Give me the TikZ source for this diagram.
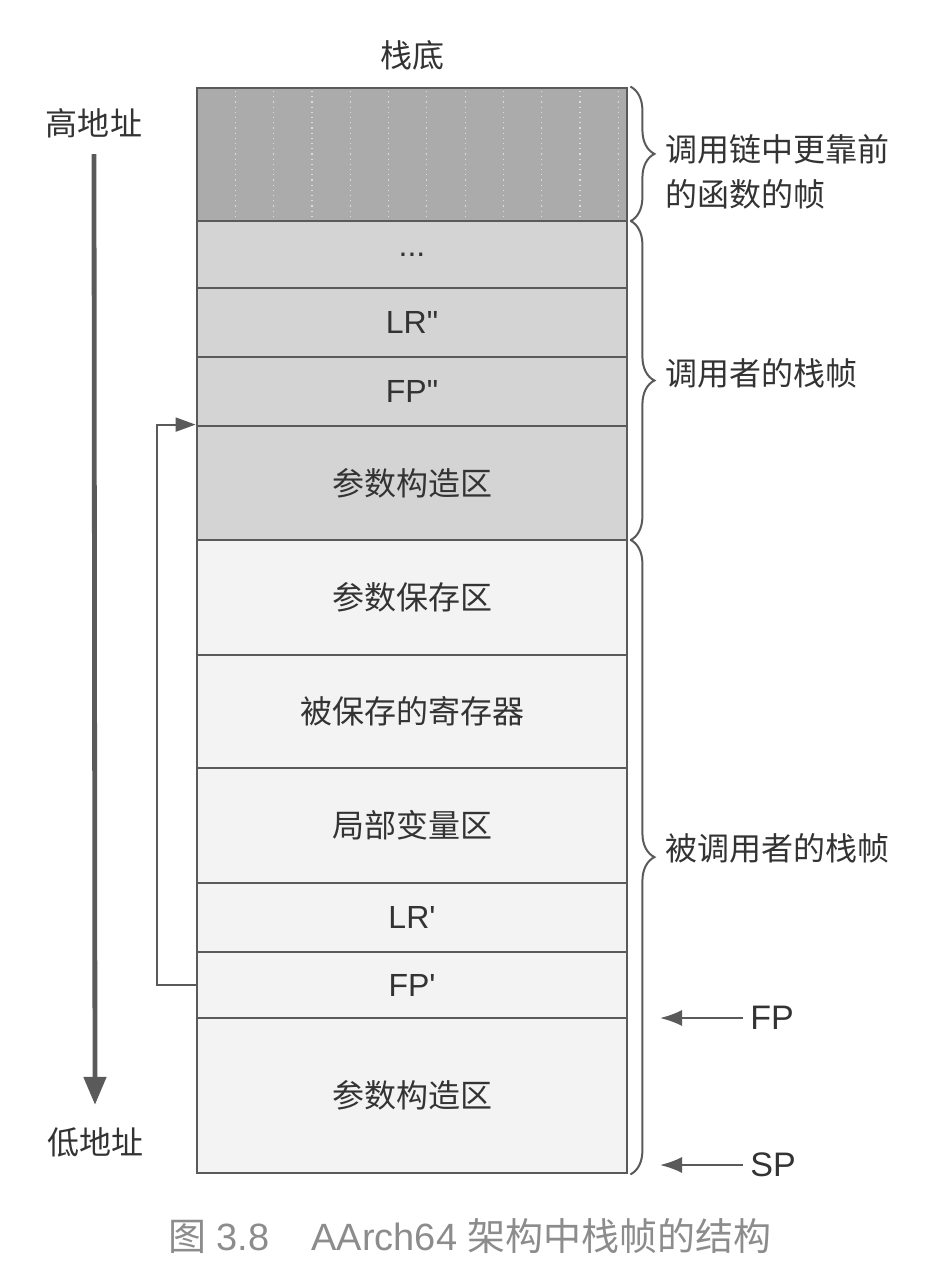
\documentclass[tikz,border=0pt]{standalone}
\usepackage{fontspec}
\newfontfamily\cjk{Noto Sans CJK SC}
\newfontfamily\lat{Liberation Sans}
\usetikzlibrary{arrows.meta}
\usetikzlibrary{decorations.pathreplacing}

\definecolor{edgegray}{HTML}{5A5A5A}
\definecolor{textgray}{HTML}{333333}
\definecolor{oldfill}{HTML}{ABABAB}
\definecolor{callerfill}{HTML}{D4D4D4}
\definecolor{calleefill}{HTML}{F3F3F3}
\definecolor{capgray}{HTML}{8C8C8C}

\begin{document}
\begin{tikzpicture}[x=0.5pt,y=-0.5pt,
    slot/.style={draw=edgegray, line width=1.4pt, minimum width=215pt, inner sep=0pt,
        text=textgray, font=\cjk\fontsize{16}{20}\selectfont},
    latslot/.style={slot, font=\lat\fontsize{16}{20}\selectfont},
    note/.style={text=textgray, inner sep=2pt, font=\cjk\fontsize{16}{22.5}\selectfont},
    grouping/.style={decorate, decoration={brace, amplitude=12pt}, draw=edgegray, line width=1pt},
    ptr/.style={draw=edgegray, line width=1pt, -{Latex[length=11pt,width=8pt]}}]

            \useasboundingbox (0,0) rectangle (946,1284);

            \node[note] (base) at (412,55) {栈底};

            % frames further up the call chain

            \node[slot, fill=oldfill, minimum height=66.5pt] (old) at (412,154.5) {};

            \foreach \i in {1,...,11}
                \draw[white, dotted, line width=0.6pt, opacity=0.6]
                (197+38.3*\i, 91) -- (197+38.3*\i, 218);

            % caller frame

            \node[latslot, fill=callerfill, minimum height=33.5pt] (dots) at (412,254.5) {...};
            \node[latslot, fill=callerfill, minimum height=34.5pt] (lr2) at (412,322.5) {LR"};
            \node[latslot, fill=callerfill, minimum height=34.5pt] (fp2) at (412,391.5) {FP"};
            \node[slot, fill=callerfill, minimum height=57pt] (argc) at (412,483) {参数构造区};

            % callee frame

            \node[slot, fill=calleefill, minimum height=57.5pt] (args) at (412,597.5) {参数保存区};
            \node[slot, fill=calleefill, minimum height=56.5pt] (regs) at (412,711.5) {被保存的寄存器};
            \node[slot, fill=calleefill, minimum height=57.5pt] (locals) at (412,825.5) {局部变量区};
            \node[latslot, fill=calleefill, minimum height=34.5pt] (lr1) at (412,917.5) {LR'};
            \node[latslot, fill=calleefill, minimum height=33pt] (fp1) at (412,985) {FP'};
            \node[slot, fill=calleefill, minimum height=77.5pt] (argn) at (412,1095.5) {参数构造区};

            % braces

            \draw[grouping] ([xshift=1pt]old.north east) -- ([xshift=1pt,yshift=0.6pt]old.south east);
            \draw[grouping] ([xshift=1pt,yshift=-0.6pt]dots.north east) -- ([xshift=1pt,yshift=0.6pt]argc.south east);
            \draw[grouping] ([xshift=1pt,yshift=-0.6pt]args.north east) -- ([xshift=1pt]argn.south east);

            \node[note, anchor=west, align=left] (oldtxt) at (661,172) {调用链中更靠前\\的函数的帧};
            \node[note, anchor=west] (callertxt) at (661,373) {调用者的栈帧};
            \node[note, anchor=west] (calleetxt) at (661,848) {被调用者的栈帧};

            % address direction

            \node[note] (high) at (94,123) {高地址};
            \node[note] (low) at (95,1142) {低地址};

            \draw[edgegray, line width=2.4pt, -{Triangle[length=14pt,width=11pt]}]
            ([yshift=-6pt]high.south) -- ([yshift=9pt]low.north);

            % saved frame pointer link

            \draw[edgegray, line width=1pt, -{Triangle[length=10pt,width=7pt]}]
            (fp1.west) -- ++(-39,0) |- (argc.north west);

            % FP and SP

            \node[text=textgray, font=\lat\fontsize{17}{20}\selectfont] (fp) at (772,1018) {FP};
            \node[text=textgray, font=\lat\fontsize{17}{20}\selectfont] (sp) at (773,1165) {SP};
            \coordinate (fptip) at (660,1018);
            \coordinate (sptip) at (660,1165);

            \draw[ptr] (fp.west) -- (fptip);
            \draw[ptr] (sp.west) -- (sptip);

            % caption

            \node[text=capgray, font=\lat\fontsize{19}{22}\selectfont] (cap) at (470,1236)
            {{\cjk 图} 3.8\hspace{1.1em}AArch64 {\cjk 架构中栈帧的结构}};
        \end{tikzpicture}
\end{document}
